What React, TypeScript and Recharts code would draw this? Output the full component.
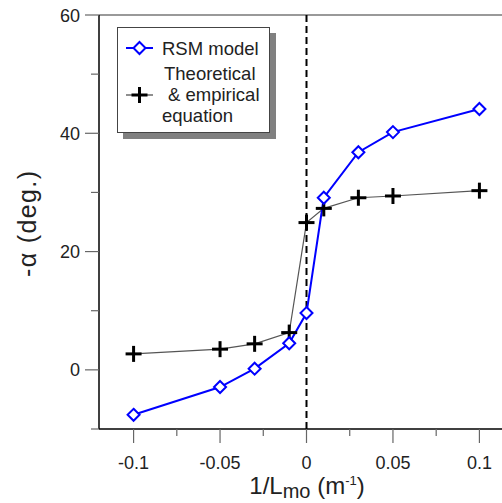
import { ComposedChart, Line, XAxis, YAxis, ReferenceLine } from 'recharts';

const INV_L = [-0.1, -0.05, -0.03, -0.01, 0, 0.01, 0.03, 0.05, 0.1];
const RSM = [-7.6, -2.9, 0.2, 4.5, 9.6, 29.1, 36.8, 40.2, 44.1];
const THEORY = [2.7, 3.5, 4.4, 6.3, 24.9, 27.3, 29.1, 29.4, 30.3];

const X_TICKS = [-0.1, -0.075, -0.05, -0.025, 0, 0.025, 0.05, 0.075, 0.1];
const X_LABELS = ['-0.1', '', '-0.05', '', '0', '', '0.05', '', '0.1'];
const Y_TICKS = [-10, 0, 10, 20, 30, 40, 50, 60];
const Y_LABELS = ['', '0', '', '20', '', '40', '', '60'];

const FONT = '"Liberation Sans", Arial, Helvetica, sans-serif';
const BLUE = '#0000ff';

const data = INV_L.map((x, i) => ({ x, rsm: RSM[i], theory: THEORY[i] }));

function findIdx(ticks: number[], v: number) {
  return ticks.findIndex((t) => Math.abs(t - v) < 1e-9);
}

// eslint-disable-next-line @typescript-eslint/no-explicit-any
function XTick(props: any) {
  const { x, y, payload } = props;
  const i = findIdx(X_TICKS, payload.value);
  const label = X_LABELS[i] ?? '';
  const major = label !== '';
  return (
    <g>
      <line x1={x} y1={y} x2={x} y2={y + (major ? 14 : 7)} stroke="#666" strokeWidth={1.2} />
      {major && (
        <text x={x} y={y + 40} textAnchor="middle" fontSize={18} fontFamily={FONT} fill="#222">{label}</text>
      )}
    </g>
  );
}

// eslint-disable-next-line @typescript-eslint/no-explicit-any
function YTick(props: any) {
  const { x, y, payload } = props;
  const i = findIdx(Y_TICKS, payload.value);
  const label = Y_LABELS[i] ?? '';
  const major = label !== '';
  return (
    <g>
      <line x1={x - (major ? 14 : 8)} y1={y} x2={x} y2={y} stroke="#666" strokeWidth={1.2} />
      {major && (
        <text x={x - 19} y={y + 6.5} textAnchor="end" fontSize={18} fontFamily={FONT} fill="#222">{label}</text>
      )}
    </g>
  );
}

// eslint-disable-next-line @typescript-eslint/no-explicit-any
function Diamond(props: any) {
  const { cx, cy } = props;
  if (cx == null || cy == null) return null;
  const r = 6;
  return (
    <polygon points={`${cx},${cy - r} ${cx + r},${cy} ${cx},${cy + r} ${cx - r},${cy}`}
      fill="#fff" stroke={BLUE} strokeWidth={2} />
  );
}

// eslint-disable-next-line @typescript-eslint/no-explicit-any
function Cross(props: any) {
  const { cx, cy } = props;
  if (cx == null || cy == null) return null;
  const r = 8;
  return (
    <g stroke="#000" strokeWidth={3}>
      <line x1={cx - r} y1={cy} x2={cx + r} y2={cy} />
      <line x1={cx} y1={cy - r} x2={cx} y2={cy + r} />
    </g>
  );
}

function LegendBox() {
  return (
    <svg width={502} height={503} style={{ position: 'absolute', left: 0, top: 0, pointerEvents: 'none' }}>
      <rect x={123} y={33} width={153} height={106} fill="#808080" />
      <rect x={117.5} y={27.5} width={152} height={105} fill="#fff" stroke="#444" strokeWidth={1} />
      <line x1={126} y1={48} x2={153} y2={48} stroke={BLUE} strokeWidth={2} />
      <Diamond cx={139.5} cy={48} />
      <text x={162} y={55} fontSize={18.5} fontFamily={FONT} fill="#222">RSM model</text>
      <line x1={126} y1={95} x2={153} y2={95} stroke="#444" strokeWidth={1.2} />
      <Cross cx={139.5} cy={95} />
      <text x={164} y={80} fontSize={18.5} fontFamily={FONT} fill="#222">Theoretical</text>
      <text x={168} y={101} fontSize={18.5} fontFamily={FONT} fill="#222">&amp; empirical</text>
      <text x={162} y={122} fontSize={18.5} fontFamily={FONT} fill="#222">equation</text>
    </svg>
  );
}

export default function App() {
  return (
    <div style={{ position: 'absolute', left: 0, top: 0, width: 502, height: 503, overflow: 'hidden', background: '#fff' }}>
      <ComposedChart width={514} height={503} data={data} margin={{ top: 15, right: 0, bottom: 0, left: 0 }}>
        <XAxis type="number" dataKey="x" domain={[-0.12, 0.12]} ticks={X_TICKS} interval={0}
          height={74} axisLine={{ stroke: '#000', strokeWidth: 1.5 }} tickLine={false}
          tickSize={0} tickMargin={0} tick={XTick} allowDataOverflow />
        <YAxis type="number" domain={[-10, 60]} ticks={Y_TICKS} interval={0}
          width={99} axisLine={{ stroke: '#000', strokeWidth: 1.5 }} tickLine={false}
          tickSize={0} tickMargin={0} tick={YTick} allowDataOverflow />
        <ReferenceLine y={60} stroke="#999" strokeWidth={2} />
        <ReferenceLine x={0} stroke="#000" strokeWidth={2} strokeDasharray="7 4" />
        <Line type="linear" dataKey="theory" stroke="#555" strokeWidth={1.2} dot={Cross}
          activeDot={false} isAnimationActive={false} />
        <Line type="linear" dataKey="rsm" stroke={BLUE} strokeWidth={2} dot={Diamond}
          activeDot={false} isAnimationActive={false} />
      </ComposedChart>
      <svg width={502} height={503} style={{ position: 'absolute', left: 0, top: 0, pointerEvents: 'none' }}>
        <text transform="translate(36,224) rotate(-90)" textAnchor="middle" fontSize={25}
          fontFamily={FONT} fill="#222" textLength={106} lengthAdjust="spacing">-α (deg.)</text>
        <text x={307} y={494} textAnchor="middle" fontSize={24} fontFamily={FONT} fill="#222">
          1/L<tspan fontSize={20} dy={4}>mo</tspan><tspan dy={-4}> (m</tspan><tspan fontSize={13} dy={-9}>-1</tspan><tspan dy={9}>)</tspan>
        </text>
      </svg>
      <LegendBox />
    </div>
  );
}
